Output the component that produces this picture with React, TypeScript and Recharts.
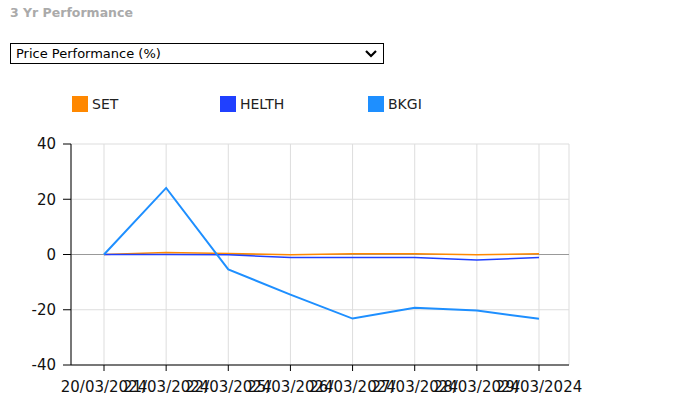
import React from "react";
import {
  LineChart,
  Line,
  XAxis,
  YAxis,
  CartesianGrid,
  ReferenceLine,
} from "recharts";

const dates = [
  "20/03/2024",
  "21/03/2024",
  "22/03/2024",
  "25/03/2024",
  "26/03/2024",
  "27/03/2024",
  "28/03/2024",
  "29/03/2024",
];
const setValues = [0, 0.7, 0.4, -0.1, 0.3, 0.3, -0.1, 0.3];
const helthValues = [0, 0, -0.1, -1.1, -1.1, -1.1, -2.0, -1.1];
const bkgiValues = [0, 24.1, -5.4, -14.5, -23.2, -19.3, -20.3, -23.3];
const yTicks = [-40, -20, 0, 20, 40];

const SERIES = [
  { key: "SET", color: "#ff8800", values: setValues },
  { key: "HELTH", color: "#2040ff", values: helthValues },
  { key: "BKGI", color: "#1e8fff", values: bkgiValues },
];

const data = dates.map((d, i) => ({
  date: d,
  SET: setValues[i],
  HELTH: helthValues[i],
  BKGI: bkgiValues[i],
}));

const FONT = "'DejaVu Sans', Verdana, sans-serif";

export default function App() {
  return (
    <div
      style={{
        position: "absolute",
        left: 0,
        top: 0,
        width: 691,
        height: 400,
        background: "#fff",
        fontFamily: FONT,
        overflow: "hidden",
      }}
    >
      <div
        style={{
          position: "absolute",
          left: 10,
          top: 5,
          fontSize: 12.5,
          fontWeight: "bold",
          color: "#aaaaaa",
        }}
      >
        3 Yr Performance
      </div>

      {/* fake dropdown */}
      <div
        style={{
          position: "absolute",
          left: 10,
          top: 43,
          width: 374,
          height: 21,
          border: "1px solid #000",
          fontSize: 13,
          lineHeight: "19px",
          paddingLeft: 5,
          boxSizing: "border-box",
          color: "#000",
        }}
      >
        Price Performance (%)
        <svg
          width={12}
          height={10}
          style={{ position: "absolute", right: 6, top: 5 }}
        >
          <polyline
            points="1,2 6,7 11,2"
            fill="none"
            stroke="#000"
            strokeWidth={2.2}
          />
        </svg>
      </div>

      {/* legend */}
      {SERIES.map((s, i) => (
        <div
          key={s.key}
          style={{
            position: "absolute",
            left: 72 + i * 148,
            top: 96,
            display: "flex",
            alignItems: "center",
            fontSize: 14,
            color: "#222",
          }}
        >
          <span
            style={{
              width: 16,
              height: 16,
              background: s.color,
              display: "inline-block",
              marginRight: 4,
            }}
          />
          {s.key}
        </div>
      ))}

      <div style={{ position: "absolute", left: 0, top: 0 }}>
        <LineChart
          width={691}
          height={400}
          data={data}
          margin={{ top: 144, left: 11, right: 122, bottom: 0 }}
        >
          <CartesianGrid stroke="#dddddd" />
          <XAxis
            dataKey="date"
            padding={{ left: 33, right: 30 }}
            axisLine={{ stroke: "#000" }}
            tickLine={{ stroke: "#000" }}
            tickSize={6}
            tickMargin={10}
            height={35}
            interval={0}
            tick={{ fill: "#111", fontSize: 15, fontFamily: FONT }}
          />
          <YAxis
            domain={[-40, 40]}
            ticks={yTicks}
            width={60}
            axisLine={{ stroke: "#000" }}
            tickLine={{ stroke: "#000" }}
            tickSize={8}
            tickMargin={7}
            tick={{ fill: "#111", fontSize: 15, fontFamily: FONT }}
          />
          <ReferenceLine y={0} stroke="#999999" />
          {SERIES.map((s) => (
            <Line
              key={s.key}
              type="linear"
              dataKey={s.key}
              stroke={s.color}
              strokeWidth={s.key === "BKGI" ? 2 : 1.5}
              dot={false}
              isAnimationActive={false}
            />
          ))}
        </LineChart>
      </div>
    </div>
  );
}
